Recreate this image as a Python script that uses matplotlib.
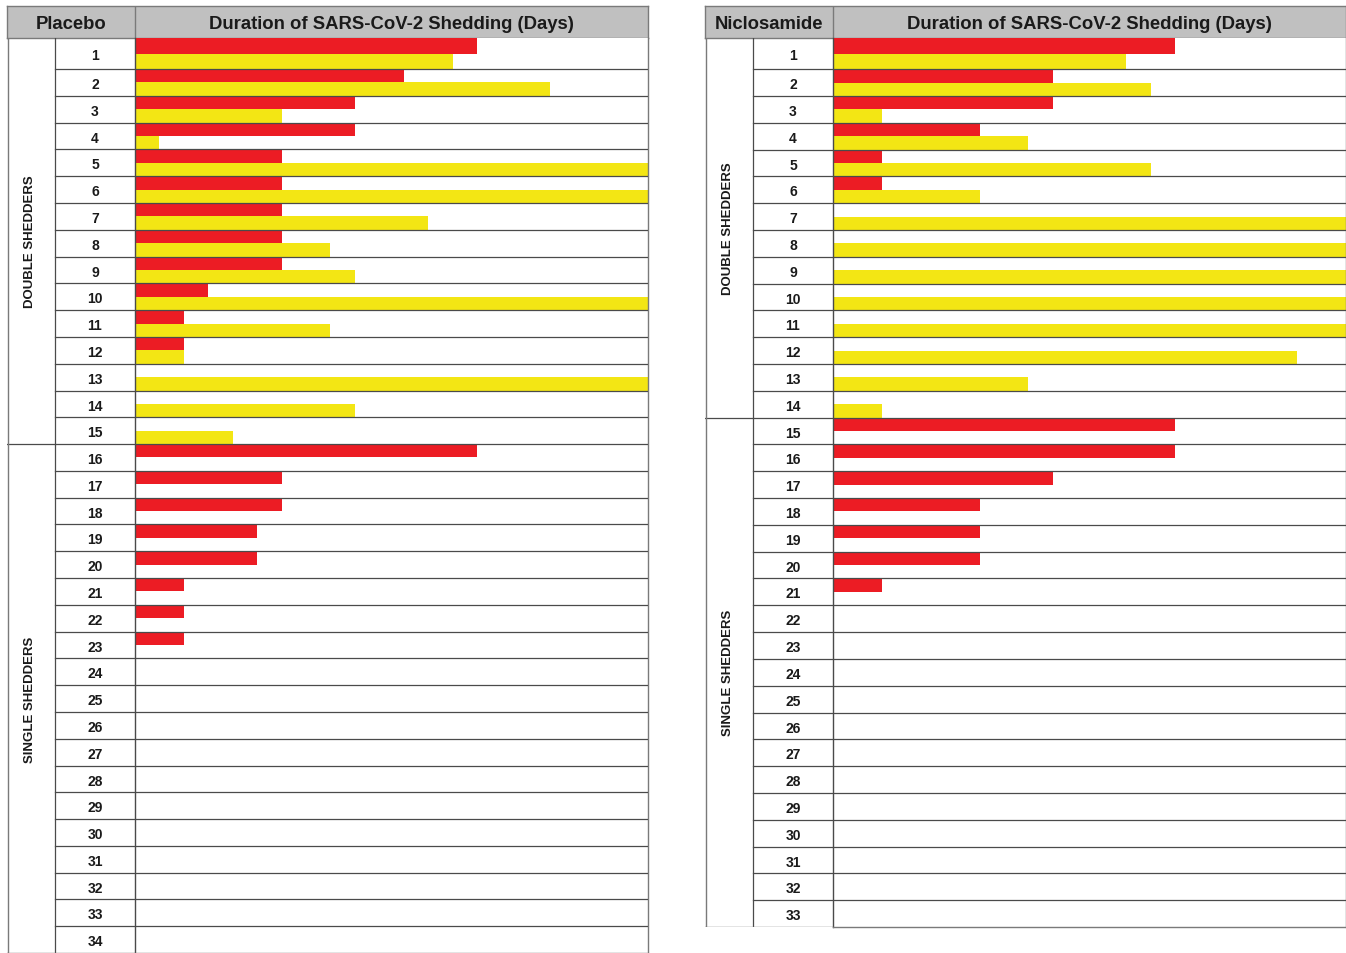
import numpy as np
import matplotlib.pyplot as plt

plt.rcParams['font.family'] = ['Liberation Sans', 'DejaVu Sans']

# shedding duration in days, red = first episode, yellow = second episode
placebo_red = [14, 11, 9, 9, 6, 6, 6, 6, 6, 3, 2, 2, 0, 0, 0,
               14, 6, 6, 5, 5, 2, 2, 2] + [0] * 11
placebo_yellow = [13, 17, 6, 1, 21, 21, 12, 8, 9, 21, 8, 2, 21, 9, 4] + [0] * 19
placebo_double = 15

nic_red = [14, 9, 9, 6, 2, 2, 0, 0, 0, 0, 0, 0, 0, 0,
           14, 14, 9, 6, 6, 6, 2] + [0] * 12
nic_yellow = [12, 13, 2, 8, 13, 6, 21, 21, 21, 21, 21, 19, 8, 2] + [0] * 19
nic_double = 14

max_days = 21
title = "Duration of SARS-CoV-2 Shedding (Days)"

RED = '#ec1c24'
YELLOW = '#f3e614'
LINE = '#4a4a4a'
EDGE = '#7a7a7a'
W, H = 1346, 954


def box(x0, y0, x1, y1):
    return [x0 / W, 1 - y1 / H, (x1 - x0) / W, (y1 - y0) / H]


def panel(fig, x0, bottom, name, red, yellow, n_double):
    n = len(red)
    xg, xn, xr = x0 + 48, x0 + 128, x0 + 641
    top, hdr = 7, 39

    # first row is a bit taller than the rest
    edges = np.concatenate([[0.0], 1.16 + np.arange(n)])
    lo, hi = edges[:-1], edges[1:]
    mid = (lo + hi) / 2
    ymax = edges[-1]

    # header strip
    axh = fig.add_axes(box(x0, top, xr, hdr))
    axh.set_facecolor('#c0c0c0')
    axh.set_xlim(x0, xr)
    axh.set_ylim(0, 1)
    axh.set_xticks([])
    axh.set_yticks([])
    for s in axh.spines.values():
        s.set_color(EDGE)
        s.set_linewidth(1)
    axh.axvline(xn, color=EDGE, lw=1)
    axh.text((x0 + xn) / 2, 0.46, name, ha='center', va='center',
             fontsize=13.3, fontweight='bold', color='#1a1a1a')
    axh.text((xn + xr) / 2, 0.46, title, ha='center', va='center',
             fontsize=13.3, fontweight='bold', color='#1a1a1a')

    # group and patient number columns
    axl = fig.add_axes(box(x0, hdr, xn, bottom))
    axl.set_xlim(0, 128)
    axl.set_ylim(ymax, 0)
    axl.axis('off')
    for i in range(n):
        axl.text(88, mid[i] + 0.06, str(i + 1), ha='center', va='center',
                 fontsize=10, fontweight='bold', color='#1a1a1a')
    for e in edges[1:-1]:
        axl.plot([48, 128], [e, e], color=LINE, lw=0.9)
    split = edges[n_double]
    axl.plot([0, 48], [split, split], color=LINE, lw=0.9)
    axl.plot([48, 48], [0, ymax], color=LINE, lw=0.9)
    axl.plot([0.5, 0.5], [0, ymax], color=EDGE, lw=1)
    axl.plot([0, 128], [ymax, ymax], color=EDGE, lw=1)
    axl.text(23, split / 2, 'DOUBLE SHEDDERS', rotation=90, ha='center',
             va='center', fontsize=9.5, fontweight='bold', color='#1a1a1a')
    axl.text(23, (split + ymax) / 2, 'SINGLE SHEDDERS', rotation=90, ha='center',
             va='center', fontsize=9.5, fontweight='bold', color='#1a1a1a')

    # bars: red in the upper half of the row, yellow in the lower half
    ax = fig.add_axes(box(xn, hdr, xr, bottom))
    half = (hi - lo) / 2
    ax.barh(lo, red, height=half, align='edge', color=RED, zorder=2)
    ax.barh(mid, yellow, height=half, align='edge', color=YELLOW, zorder=2)
    ax.set_xlim(0, max_days)
    ax.set_ylim(ymax, 0)
    ax.set_xticks([])
    ax.set_yticks([])
    for e in edges[1:-1]:
        ax.axhline(e, color=LINE, lw=0.9, zorder=3)
    for side, s in ax.spines.items():
        s.set_color(LINE if side == 'left' else EDGE)
        s.set_linewidth(1)
    ax.spines['top'].set_visible(False)


fig = plt.figure(figsize=(13.46, 9.54), dpi=100)
panel(fig, 7, 954, 'Placebo', placebo_red, placebo_yellow, placebo_double)
panel(fig, 705, 928, 'Niclosamide', nic_red, nic_yellow, nic_double)
fig.savefig('out.png', dpi=100)
